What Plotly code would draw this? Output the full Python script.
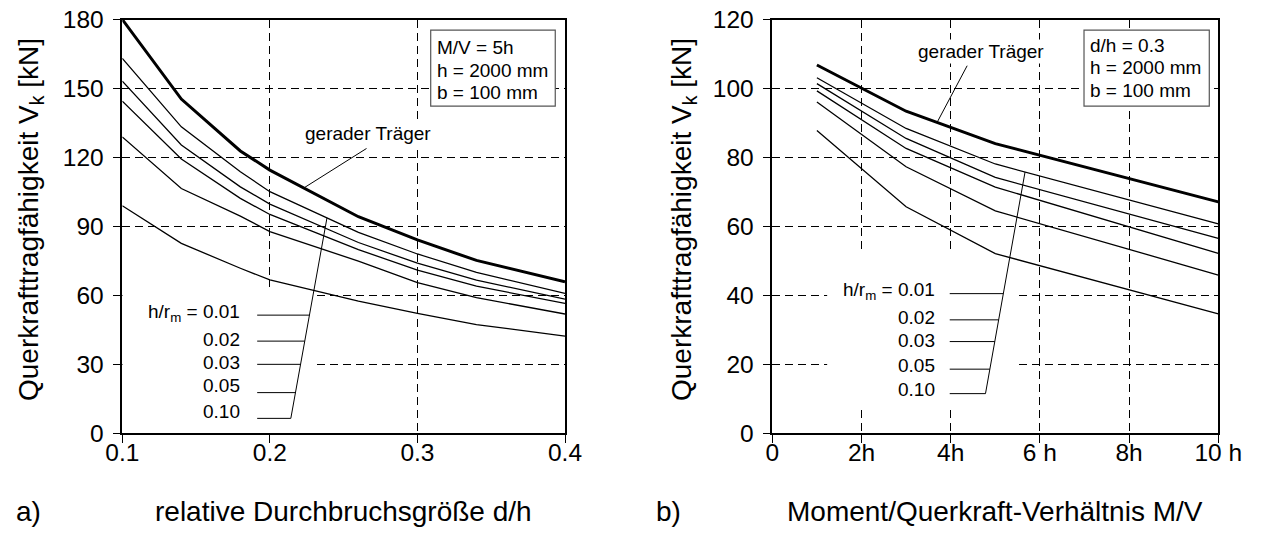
import numpy as np
import plotly.graph_objects as go

# ---------- a) shear capacity vs. relative opening size (M/V = 5h) ----------
dh = [0.10, 0.14, 0.18, 0.20, 0.26, 0.30, 0.34, 0.40]
a_straight = [180.0, 145.4, 122.8, 114.5, 94.2, 84.1, 75.2, 65.9]
a_001 = [163.1, 133.3, 113.8, 105.1, 87.4, 78.0, 70.0, 60.9]
a_002 = [153.2, 125.4, 107.2, 99.7, 83.0, 74.0, 66.6, 58.4]
a_003 = [144.5, 119.3, 102.2, 95.2, 79.9, 71.0, 64.0, 56.5]
a_005 = [128.9, 106.5, 94.5, 87.7, 74.9, 65.5, 59.0, 51.9]
a_010 = [99.0, 82.6, 71.8, 66.7, 57.5, 52.2, 47.3, 42.3]

# ---------- b) shear capacity vs. moment/shear ratio (d/h = 0.3) ----------
mv = [1, 3, 5, 10]
b_straight = [106.8, 93.4, 84.0, 67.1]
b_001 = [103.1, 88.4, 78.1, 60.7]
b_002 = [101.4, 85.5, 74.2, 56.5]
b_003 = [99.3, 82.6, 71.4, 52.2]
b_005 = [96.1, 77.3, 64.5, 45.9]
b_010 = [87.8, 65.7, 52.1, 34.6]

curvature_labels = ["0.01", "0.02", "0.03", "0.05", "0.10"]
a_ticks = [0.1, 0.2, 0.3, 0.4]
a_ticktext = ["0.1", "0.2", "0.3", "0.4"]
b_ticks = [0, 2, 4, 6, 8, 10]
b_ticktext = ["0", "2h", "4h", "6 h", "8h", "10 h"]

FONT = "Liberation Sans, Arial, Helvetica, sans-serif"
W, H = 1268, 538

fig = go.Figure()

a_curves = [a_001, a_002, a_003, a_005, a_010]
b_curves = [b_001, b_002, b_003, b_005, b_010]

for lab, ys in zip(curvature_labels, a_curves):
    fig.add_trace(go.Scatter(x=dh, y=ys, mode="lines", name="h/r_m = " + lab,
                             line=dict(color="black", width=1.3),
                             xaxis="x", yaxis="y", showlegend=False))
fig.add_trace(go.Scatter(x=dh, y=a_straight, mode="lines", name="gerader Träger",
                         line=dict(color="black", width=3),
                         xaxis="x", yaxis="y", showlegend=False))

for lab, ys in zip(curvature_labels, b_curves):
    fig.add_trace(go.Scatter(x=mv, y=ys, mode="lines", name="h/r_m = " + lab,
                             line=dict(color="black", width=1.3),
                             xaxis="x2", yaxis="y2", showlegend=False))
fig.add_trace(go.Scatter(x=mv, y=b_straight, mode="lines", name="gerader Träger",
                         line=dict(color="black", width=3),
                         xaxis="x2", yaxis="y2", showlegend=False))

axis_common = dict(
    showline=True, linecolor="black", linewidth=1.5, mirror=True,
    ticks="outside", ticklen=8, tickcolor="black", tickwidth=1.2,
    showgrid=True, gridcolor="black", gridwidth=1, griddash="8px,5px",
    zeroline=False, automargin=False,
    tickfont=dict(family=FONT, size=24.5, color="black"),
)
x_extra = dict(ticklabelstandoff=-11)
y_extra = dict(ticklabelstandoff=4)

y_dom = [(H - 433.3) / H, (H - 19.5) / H]
fig.update_layout(
    width=W, height=H,
    margin=dict(l=0, r=0, t=0, b=0),
    paper_bgcolor="white", plot_bgcolor="white",
    font=dict(family=FONT, color="black"),
    xaxis=dict(domain=[122.3 / W, 565.0 / W], range=[0.1, 0.4],
               tickvals=a_ticks, ticktext=a_ticktext, anchor="y", **axis_common, **x_extra),
    yaxis=dict(domain=y_dom, range=[0, 180], dtick=30, anchor="x", **axis_common, **y_extra),
    xaxis2=dict(domain=[772.3 / W, 1218.3 / W], range=[0, 10],
                tickvals=b_ticks, ticktext=b_ticktext, anchor="y2", **axis_common, **x_extra),
    yaxis2=dict(domain=y_dom, range=[0, 120], dtick=20, anchor="x2", **axis_common, **y_extra),
)

shapes = []
annots = []
LBL = 19

# white areas behind the curvature labels (hide the grid there)
shapes.append(dict(type="rect", xref="x", yref="y", x0=0.1, x1=0.2305, y0=0, y1=63.6,
                   fillcolor="white", line=dict(width=0), layer="between"))
shapes.append(dict(type="rect", xref="x2", yref="y2", x0=1.23, x1=5.5, y0=8.2, y1=52.5,
                   fillcolor="white", line=dict(width=0), layer="between"))


def label_block(xref, yref, curve_x, curve_y, text_x, text_ys, line_x0, line_ys,
                bottom, top_x):
    """Curvature labels with tick lines joined by a slanted leader to the h/r_m = 0.01 curve."""
    top_y = float(np.interp(top_x, curve_x, curve_y))
    bx, by = bottom
    shapes.append(dict(type="line", xref=xref, yref=yref, x0=bx, y0=by, x1=top_x, y1=top_y,
                       line=dict(color="black", width=1)))
    for ly in line_ys:
        lx = bx + (top_x - bx) * (ly - by) / (top_y - by)
        shapes.append(dict(type="line", xref=xref, yref=yref, x0=line_x0, y0=ly, x1=lx, y1=ly,
                           line=dict(color="black", width=1)))
    for i, (lab, ty) in enumerate(zip(curvature_labels, text_ys)):
        txt = ("h/r<sub>m</sub> = " + lab) if i == 0 else lab
        annots.append(dict(xref=xref, yref=yref, x=text_x, y=ty, text=txt, showarrow=False,
                           xanchor="right", yanchor="middle",
                           font=dict(family=FONT, size=LBL, color="black")))


label_block("x", "y", dh, a_001, 0.1808, [52.4, 41.0, 30.9, 20.6, 9.7], 0.1914,
            [51.4, 40.1, 30.0, 17.7, 6.5], (0.2142, 6.5), 0.2387)
label_block("x2", "y2", mv, b_001, 3.694, [41.2, 33.6, 26.8, 19.8, 12.8], 3.978,
            [40.5, 32.9, 26.6, 18.6, 11.5], (4.78, 11.5), 5.667)

# "gerader Träger" labels with leaders to the straight-beam curve
for xref, yref, cx, cy, tx, ty, lx0, ly0, lx1 in [
    ("x", "y", dh, a_straight, 0.2663, 130.5, 0.2655, 123.9, 0.2230),
    ("x2", "y2", mv, b_straight, 4.674, 110.6, 4.369, 106.6, 3.694),
]:
    ly1 = float(np.interp(lx1, cx, cy))
    shapes.append(dict(type="line", xref=xref, yref=yref, x0=lx0, y0=ly0, x1=lx1, y1=ly1,
                       line=dict(color="black", width=1)))
    annots.append(dict(xref=xref, yref=yref, x=tx, y=ty, text="gerader Träger",
                       showarrow=False, xanchor="center", yanchor="middle", bgcolor="white",
                       font=dict(family=FONT, size=LBL, color="black")))

# parameter boxes
for xref, yref, x0, x1, y0, y1, tx, tys, lines in [
    ("x", "y", 0.3090, 0.3934, 142.3, 175.4, 0.3117, [167.9, 158.0, 148.3],
     ["M/V = 5h", "h = 2000 mm", "b = 100 mm"]),
    ("x2", "y2", 6.989, 9.798, 94.9, 116.9, 7.07, [112.6, 106.0, 99.5],
     ["d/h = 0.3", "h = 2000 mm", "b = 100 mm"]),
]:
    shapes.append(dict(type="rect", xref=xref, yref=yref, x0=x0, x1=x1, y0=y0, y1=y1,
                       fillcolor="white", line=dict(color="#555555", width=1.2), layer="between"))
    for ty, t in zip(tys, lines):
        annots.append(dict(xref=xref, yref=yref, x=tx, y=ty, text=t, showarrow=False,
                           xanchor="left", yanchor="middle",
                           font=dict(family=FONT, size=LBL, color="black")))

# axis titles and panel letters
TITLE = 28
ytitle = "Querkrafttragfähigkeit V<sub>k</sub> [kN]"
for px in (30, 683):
    annots.append(dict(xref="paper", yref="paper", x=px / W, y=1 - 220 / H, text=ytitle,
                       textangle=-90, showarrow=False, xanchor="center", yanchor="middle",
                       font=dict(family=FONT, size=TITLE, color="black")))
for px, t in [(343, "relative Durchbruchsgröße d/h"), (995, "Moment/Querkraft-Verhältnis M/V")]:
    annots.append(dict(xref="paper", yref="paper", x=px / W, y=1 - 511 / H, text=t,
                       showarrow=False, xanchor="center", yanchor="middle",
                       font=dict(family=FONT, size=TITLE, color="black")))
for px, t in [(28, "a)"), (668, "b)")]:
    annots.append(dict(xref="paper", yref="paper", x=px / W, y=1 - 511 / H, text=t,
                       showarrow=False, xanchor="center", yanchor="middle",
                       font=dict(family=FONT, size=TITLE, color="black")))

fig.update_layout(shapes=shapes, annotations=annots)
fig.write_html("out.html")
